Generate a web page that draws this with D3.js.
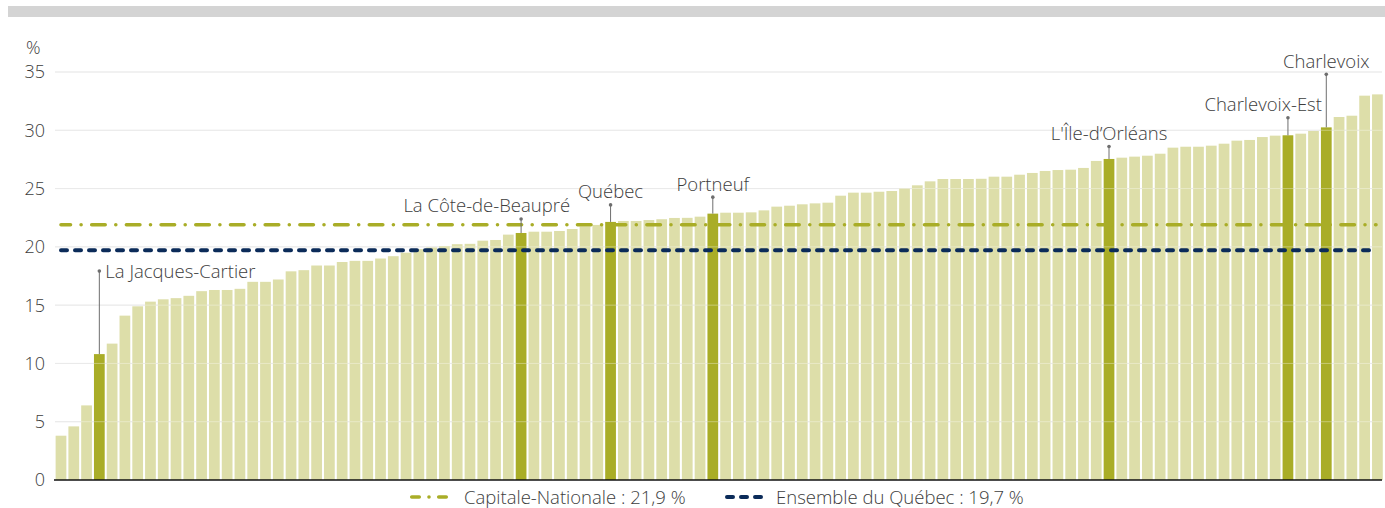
<!DOCTYPE html>
<html>
<head>
<meta charset="utf-8">
<script src="https://cdn.jsdelivr.net/npm/d3@7"></script>
<style>
  body { margin: 0; background: #fff; }
  svg { display: block; font-family: "Open Sans", "Noto Sans", sans-serif; }
  text { fill: #3d3d3d; font-weight: 300; }
</style>
</head>
<body>
<div id="chart"></div>
<script>
// Values, sorted, one per MRC (%)
const values = [
  3.8, 4.6, 6.4, 10.8, 11.7, 14.1, 14.9, 15.3, 15.5, 15.6,
  15.8, 16.2, 16.3, 16.3, 16.4, 17.0, 17.0, 17.2, 17.9, 18.0,
  18.4, 18.4, 18.7, 18.8, 18.8, 19.0, 19.2, 19.5, 19.8, 19.95,
  20.07, 20.23, 20.26, 20.53, 20.59, 21.05, 21.19, 21.3, 21.3, 21.36,
  21.53, 21.75, 21.88, 22.14, 22.22, 22.22, 22.3, 22.37, 22.48, 22.49,
  22.59, 22.85, 22.93, 22.93, 22.96, 23.13, 23.45, 23.53, 23.65, 23.73,
  23.79, 24.39, 24.65, 24.65, 24.73, 24.79, 25.02, 25.28, 25.62, 25.82,
  25.82, 25.82, 25.84, 26.02, 26.02, 26.19, 26.34, 26.51, 26.59, 26.62,
  26.77, 27.37, 27.54, 27.65, 27.74, 27.82, 27.99, 28.51, 28.59, 28.59,
  28.68, 28.85, 29.11, 29.17, 29.42, 29.54, 29.57, 29.71, 29.94, 30.25,
  31.14, 31.25, 32.97, 33.08
];

// Highlighted MRC of Capitale-Nationale and their rank in the list above
const highlightNames = ["La Jacques-Cartier", "La Côte-de-Beaupré", "Québec", "Portneuf", "L'Île-d’Orléans", "Charlevoix-Est", "Charlevoix"];
const highlightRanks = [3, 36, 43, 51, 82, 96, 99];

const yTicks = [0, 5, 10, 15, 20, 25, 30, 35];

const refNames = ["Capitale-Nationale : 21,9 %", "Ensemble du Québec : 19,7 %"];
const refValues = [21.9, 19.7];

// label layout: leader length above bar (px), text anchor and x shift
const labelLayout = [
  { rise: 83, anchor: "start", dx: 6, side: true },
  { rise: 14, anchor: "end", dx: 49 },
  { rise: 17, anchor: "middle", dx: 0 },
  { rise: 16.5, anchor: "middle", dx: 0 },
  { rise: 12.5, anchor: "middle", dx: 0 },
  { rise: 17.5, anchor: "end", dx: 34 },
  { rise: 53, anchor: "middle", dx: 0 }
];

const width = 1385, height = 508;
const hiColor = "#a9ad27", loColor = "#dddea9", navy = "#0b2b59";
const labelSize = "18.5px", tickSize = "18px";

const svg = d3.select("#chart").append("svg")
  .attr("width", width)
  .attr("height", height);

// top grey band
svg.append("rect")
  .attr("x", 8).attr("y", 6)
  .attr("width", width - 8).attr("height", 11)
  .attr("fill", "#d4d4d4");

const x = d3.scaleBand()
  .domain(d3.range(values.length))
  .range([54.6, 1383.8])
  .paddingInner(0.16)
  .paddingOuter(0.08);

const y = d3.scaleLinear().domain([0, 35]).range([480, 72]);

// gridlines
svg.append("g")
  .selectAll("line")
  .data(yTicks.filter(d => d > 0))
  .join("line")
  .attr("x1", 55).attr("x2", 1382)
  .attr("y1", d => y(d)).attr("y2", d => y(d))
  .attr("stroke", "#dedede")
  .attr("stroke-width", 1);

// y tick labels
svg.append("g")
  .selectAll("text")
  .data(yTicks)
  .join("text")
  .attr("x", 45)
  .attr("y", d => y(d))
  .attr("dy", "0.36em")
  .attr("text-anchor", "end")
  .style("font-size", tickSize)
  .text(d => d);

svg.append("text")
  .attr("x", 26).attr("y", 47.5)
  .attr("dy", "0.36em")
  .style("font-size", tickSize)
  .text("%");

const isHi = i => highlightRanks.includes(i);

// bars
svg.append("g")
  .selectAll("rect")
  .data(values)
  .join("rect")
  .attr("x", (d, i) => x(i))
  .attr("y", d => y(d))
  .attr("width", x.bandwidth())
  .attr("height", d => y(0) - y(d))
  .attr("fill", (d, i) => isHi(i) ? hiColor : loColor);

// faint gridlines over the bars
svg.append("g")
  .selectAll("line")
  .data(yTicks.filter(d => d > 0))
  .join("line")
  .attr("x1", 55).attr("x2", 1382)
  .attr("y1", d => y(d)).attr("y2", d => y(d))
  .attr("stroke", "#ffffff")
  .attr("stroke-opacity", 0.35)
  .attr("stroke-width", 1);

// reference lines
const refStyles = [
  { color: hiColor, dash: "13.5,10.6,0,10.6", w: 3.6, offset: 4 },
  { color: navy, dash: "6,8", w: 4, offset: 0 }
];
svg.append("g")
  .selectAll("line")
  .data(refValues)
  .join("line")
  .attr("x1", 61).attr("x2", 1376)
  .attr("y1", d => y(d)).attr("y2", d => y(d))
  .attr("stroke", (d, i) => refStyles[i].color)
  .attr("stroke-width", (d, i) => refStyles[i].w)
  .attr("stroke-linecap", "round")
  .attr("stroke-dasharray", (d, i) => refStyles[i].dash)
  .attr("stroke-dashoffset", (d, i) => refStyles[i].offset);

// baseline
svg.append("line")
  .attr("x1", 54).attr("x2", 1382)
  .attr("y1", y(0)).attr("y2", y(0))
  .attr("stroke", "#111")
  .attr("stroke-width", 1.5);

// annotations
const ann = svg.append("g");
highlightRanks.forEach((r, k) => {
  const L = labelLayout[k];
  const cx = x(r) + x.bandwidth() / 2;
  const top = y(values[r]);
  const dotY = top - L.rise;
  ann.append("line")
    .attr("x1", cx).attr("x2", cx)
    .attr("y1", top).attr("y2", dotY)
    .attr("stroke", "#6e6e6e")
    .attr("stroke-width", 1);
  ann.append("circle")
    .attr("cx", cx).attr("cy", dotY).attr("r", 1.8)
    .attr("fill", "#6e6e6e");
  const t = ann.append("text")
    .attr("text-anchor", L.anchor)
    .style("font-size", labelSize)
    .text(highlightNames[k]);
  if (L.side) {
    t.attr("x", cx + L.dx).attr("y", dotY).attr("dy", "0.36em");
  } else {
    t.attr("x", cx + L.dx).attr("y", dotY - 6.5);
  }
});

// legend
const legend = svg.append("g");
legend.append("line")
  .attr("x1", 411.75).attr("x2", 446.25)
  .attr("y1", 497).attr("y2", 497)
  .attr("stroke", hiColor).attr("stroke-width", 3.6)
  .attr("stroke-linecap", "round")
  .attr("stroke-dasharray", "7.5,9.75,0,9.75,7.5,100");
legend.append("text")
  .attr("x", 464).attr("y", 497).attr("dy", "0.36em")
  .style("font-size", labelSize)
  .text(refNames[0]);
legend.append("line")
  .attr("x1", 727).attr("x2", 761)
  .attr("y1", 497).attr("y2", 497)
  .attr("stroke", navy).attr("stroke-width", 4)
  .attr("stroke-linecap", "round")
  .attr("stroke-dasharray", "6,8");
legend.append("text")
  .attr("x", 776).attr("y", 497).attr("dy", "0.36em")
  .style("font-size", labelSize)
  .text(refNames[1]);
</script>
</body>
</html>
